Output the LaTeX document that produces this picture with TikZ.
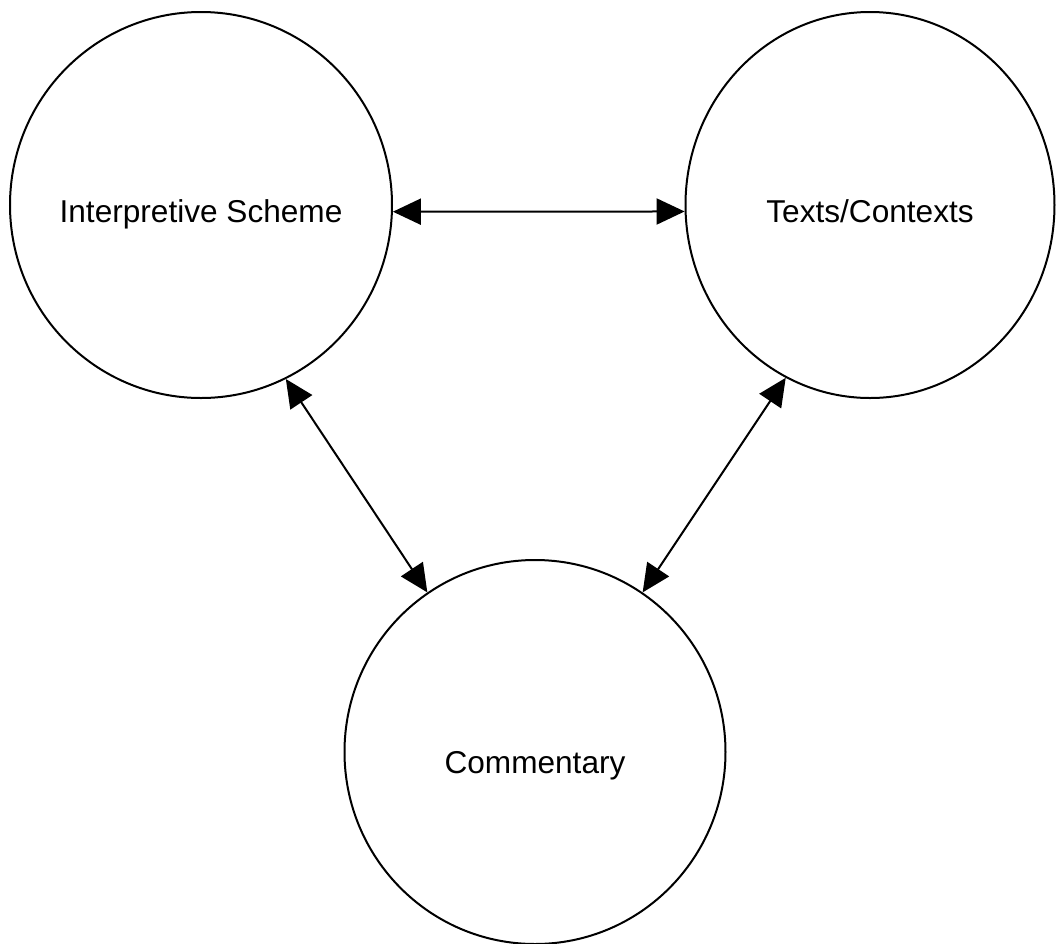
\documentclass[tikz,border=0pt]{standalone}
\usepackage{fontspec}
\setmainfont{Liberation Sans}
\usetikzlibrary{shapes.geometric,arrows.meta}
\begin{document}
\begin{tikzpicture}[x=0.5pt,y=-0.5pt,
  bubble/.style={ellipse,draw=black,line width=1pt,inner sep=0pt,text depth=0pt,
    font=\fontsize{15.8}{19}\selectfont,text=black},
  link/.style={line width=1pt,{Triangle[length=14pt,width=13pt]}-{Triangle[length=14pt,width=13pt]}}]
\useasboundingbox (0,0) rectangle (1057,944);
\node[bubble,minimum width=191pt,minimum height=193pt,text height=17pt] (L) at (201,205) {\makebox[0pt]{Interpretive Scheme}};
\node[bubble,minimum width=184.5pt,minimum height=193pt,text height=17pt] (R) at (870,205) {\makebox[0pt]{Texts/Contexts}};
\node[bubble,minimum width=190.5pt,minimum height=192pt,text height=21pt] (B) at (535,752) {\makebox[0pt]{Commentary}};
\draw[link] (L.-2) -- (R.182);
\draw[link] (L.-64.6) -- (B.124);
\draw[link] (R.-116.3) -- (B.56);
\end{tikzpicture}
\end{document}
